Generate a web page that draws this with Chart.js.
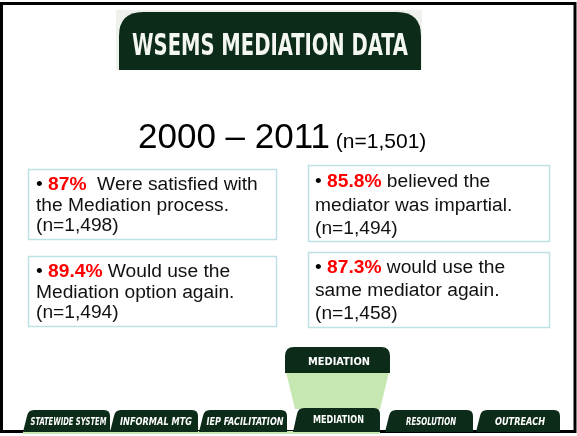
<!DOCTYPE html>
<html>
<head>
<meta charset="utf-8">
<title>WSEMS Mediation Data</title>
<script src="https://cdn.jsdelivr.net/npm/chart.js@4/dist/chart.umd.min.js"></script>
<style>
  html, body { margin: 0; padding: 0; background: #fff; }
  canvas { display: block; }
</style>
</head>
<body>
<canvas id="slide" width="577" height="436"></canvas>
<script>
'use strict'
// dane ze slajdu
var slideTitle = 'WSEMS MEDIATION DATA';
var yearFrom = 2000;
var yearTo = 2011;
var totalN = 1501;
var statNames = ['Satisfied', 'Impartial', 'Use again', 'Same mediator'];
var pctValues = [87, 85.8, 89.4, 87.3];
var statLines = [
  [' Were satisfied with', 'the Mediation process.'],
  ['believed the', 'mediator was impartial.'],
  ['Would use the', 'Mediation option again.'],
  ['would use the', 'same mediator again.']
];
var respondents = [1498, 1494, 1494, 1458];
var tabLabels = ['STATEWIDE SYSTEM', 'INFORMAL MTG', 'IEP FACILITATION', 'MEDIATION', 'RESOLUTION', 'OUTREACH'];
var activeTab = 'MEDIATION';

var GREEN = '#0c2c19';
var TEXT_FONT = 'Arial, "Liberation Sans", sans-serif';
var NARROW = '"Liberation Sans Narrow", "DejaVu Sans Condensed", Arial, sans-serif';
var BOX_FONT = '19.2px ' + TEXT_FONT;

function fmt(n) {
  return n.toLocaleString('en-US');
}

function roundTop(ctx, x, y, w, h, r) {
  ctx.beginPath();
  ctx.moveTo(x, y + h);
  ctx.lineTo(x, y + r);
  ctx.quadraticCurveTo(x, y, x + r, y);
  ctx.lineTo(x + w - r, y);
  ctx.quadraticCurveTo(x + w, y, x + w, y + r);
  ctx.lineTo(x + w, y + h);
  ctx.closePath();
}

// zakładka z ukośnym lewym bokiem
function tabShape(ctx, x, y, w, h) {
  ctx.beginPath();
  ctx.moveTo(x, y + h);
  ctx.lineTo(x + 4, y + 6);
  ctx.quadraticCurveTo(x + 5, y, x + 11, y);
  ctx.lineTo(x + w - 6, y);
  ctx.quadraticCurveTo(x + w, y, x + w, y + 6);
  ctx.lineTo(x + w, y + h);
  ctx.closePath();
}

// tekst wyśrodkowany, ściśnięty do podanej szerokości
function fitText(ctx, text, cx, y, width) {
  var w = ctx.measureText(text).width;
  var k = width ? width / w : 1;
  ctx.save();
  ctx.translate(cx, y);
  ctx.scale(k, 1);
  ctx.textAlign = 'center';
  ctx.fillText(text, 0, 0);
  ctx.restore();
}

// ramki z wynikami: lewa góra, prawa góra, lewy dół, prawy dół
var boxes = [
  { x: 28, y: 169, w: 248, h: 70, tx: 36, base: 190, lh: 20.5 },
  { x: 308, y: 165, w: 241, h: 76, tx: 315, base: 187, lh: 23.5 },
  { x: 28, y: 256, w: 248, h: 70, tx: 36, base: 277, lh: 20.5 },
  { x: 308, y: 252, w: 241, h: 75, tx: 315, base: 273, lh: 23 }
];

var tabBoxes = [
  { x: 23, w: 87, text: 76 },
  { x: 110, w: 88, text: 72 },
  { x: 199, w: 88, text: 77 },
  { x: 293, w: 87, text: 51 },
  { x: 385, w: 88, text: 50 },
  { x: 476, w: 84, text: 50 }
];

var slidePlugin = {
  id: 'slide',
  afterDraw: function(chart) {
    var ctx = chart.ctx;
    var values = chart.data.datasets[0].data;
    ctx.save();

    // ramka slajdu
    ctx.strokeStyle = '#000';
    ctx.lineWidth = 3;
    ctx.strokeRect(1.5, 3.5, 573.5, 428);

    // nagłówek
    ctx.fillStyle = '#eef1ec';
    ctx.fillRect(116, 10, 306, 60);
    ctx.fillStyle = GREEN;
    roundTop(ctx, 119, 12, 302, 58, 24);
    ctx.fill();
    ctx.fillStyle = '#f4f6f2';
    ctx.font = 'bold 30px ' + NARROW;
    ctx.textBaseline = 'alphabetic';
    fitText(ctx, chart.options.plugins.title.text, 270, 55, 276);

    // lata
    var big = yearFrom + ' \u2013 ' + yearTo;
    var small = ' (n=' + fmt(totalN) + ')';
    ctx.font = '35px ' + TEXT_FONT;
    var wBig = ctx.measureText(big).width;
    ctx.font = '21px ' + TEXT_FONT;
    var wSmall = ctx.measureText(small).width;
    var sx = 138;
    ctx.fillStyle = '#000';
    ctx.textAlign = 'left';
    ctx.font = '35px ' + TEXT_FONT;
    ctx.fillText(big, sx, 148);
    ctx.font = '21px ' + TEXT_FONT;
    ctx.fillText(small, sx + wBig, 148);

    // ramki
    boxes.forEach(function(b, i) {
      ctx.strokeStyle = '#bfe1e6';
      ctx.lineWidth = 1.5;
      ctx.strokeRect(b.x + 0.5, b.y + 0.5, b.w, b.h);
      var x = b.tx;
      ctx.font = BOX_FONT;
      ctx.fillStyle = '#000';
      ctx.fillText('\u2022 ', x, b.base);
      x += ctx.measureText('\u2022 ').width;
      var pct = values[i] + '%';
      ctx.font = 'bold ' + BOX_FONT;
      ctx.fillStyle = '#ff0000';
      ctx.fillText(pct, x, b.base);
      x += ctx.measureText(pct).width;
      ctx.font = BOX_FONT;
      ctx.fillStyle = '#111';
      ctx.fillText(' ' + statLines[i][0], x, b.base);
      ctx.fillText(statLines[i][1], b.tx, b.base + b.lh);
      ctx.fillText('(n=' + fmt(respondents[i]) + ')', b.tx, b.base + 2 * b.lh);
    });

    // zakładki na dole
    ctx.fillStyle = '#c6e6b2';
    ctx.fillRect(23, 431, 357, 3);
    var act = tabLabels.indexOf(activeTab);
    var a = tabBoxes[act];
    ctx.beginPath();
    ctx.moveTo(286, 372);
    ctx.lineTo(389, 372);
    ctx.lineTo(a.x + a.w, 409);
    ctx.lineTo(a.x + 2, 409);
    ctx.closePath();
    ctx.fill();

    ctx.fillStyle = GREEN;
    roundTop(ctx, 285, 347, 105, 26, 9);
    ctx.fill();
    ctx.fillStyle = '#fff';
    ctx.font = 'bold 11px ' + NARROW;
    fitText(ctx, activeTab, 339, 365, 62);

    tabLabels.forEach(function(label, i) {
      var t = tabBoxes[i];
      var top = i === act ? 408 : 410;
      ctx.fillStyle = GREEN;
      tabShape(ctx, t.x, top, t.w, 432 - top);
      ctx.fill();
      ctx.fillStyle = '#fff';
      ctx.font = (i === act ? '' : 'italic ') + 'bold 10px ' + NARROW;
      fitText(ctx, label, t.x + t.w / 2 + 2, i === act ? 423 : 425, t.text);
    });

    ctx.restore();
  }
};

var chart = new Chart(document.getElementById('slide'), {
  type: 'bar',
  data: {
    labels: statNames,
    datasets: [{
      label: 'Percent',
      data: pctValues,
      hidden: true
    }]
  },
  options: {
    responsive: false,
    animation: false,
    layout: { padding: 0 },
    scales: {
      x: { display: false },
      y: { display: false, min: 0, max: 100 }
    },
    plugins: {
      legend: { display: false },
      tooltip: { enabled: false },
      title: { display: false, text: slideTitle }
    }
  },
  plugins: [slidePlugin]
});
</script>
</body>
</html>
